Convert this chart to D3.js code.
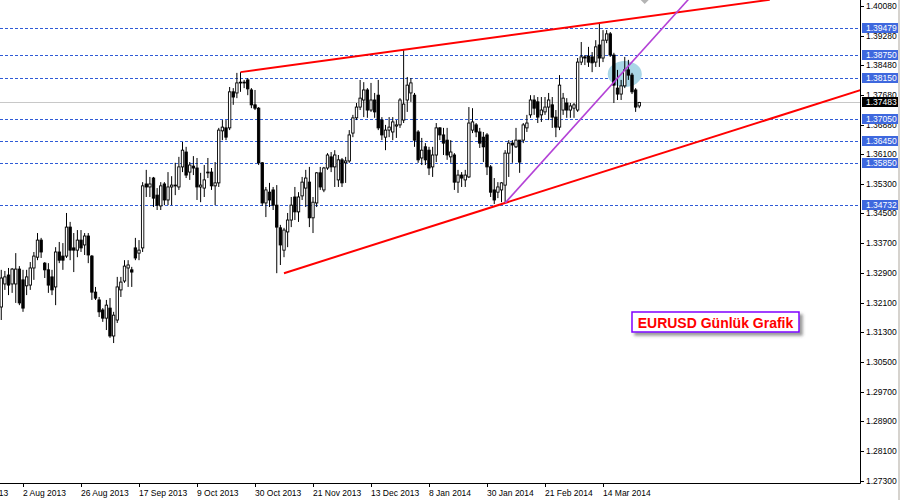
<!DOCTYPE html>
<html>
<head>
<meta charset="utf-8">
<title>EURUSD Günlük Grafik</title>
<script src="https://cdn.jsdelivr.net/npm/d3@7"></script>
<style>
    body { margin: 0; background: #fff; }
    #chart { width: 900px; height: 500px; }
    .axis-text { font-family: "Liberation Sans", Arial, sans-serif; font-size: 8.5px; }
</style>
</head>
<body>
<div id="chart"></div>
<script>
// Daily EURUSD candles (one entry per bar, oldest first)
const opens = [
    1.3198, 1.3260, 1.3284, 1.3260, 1.3260, 1.3300, 1.3271, 1.3255, 1.3257, 1.3303,
    1.3332, 1.3378, 1.3316, 1.3298, 1.3279, 1.3252, 1.3346, 1.3335, 1.3335, 1.3413,
    1.3357, 1.3351, 1.3378, 1.3365, 1.3389, 1.3335, 1.3238, 1.3217, 1.3190, 1.3168,
    1.3195, 1.3120, 1.3163, 1.3244, 1.3268, 1.3303, 1.3298, 1.3357, 1.3343, 1.3357,
    1.3529, 1.3521, 1.3545, 1.3499, 1.3470, 1.3529, 1.3486, 1.3521, 1.3524, 1.3521,
    1.3575, 1.3615, 1.3561, 1.3577, 1.3572, 1.3521, 1.3518, 1.3561, 1.3561, 1.3524,
    1.3532, 1.3672, 1.3680, 1.3680, 1.3777, 1.3774, 1.3801, 1.3803, 1.3809, 1.3782,
    1.3742, 1.3733, 1.3586, 1.3478, 1.3507, 1.3513, 1.3472, 1.3411, 1.3351, 1.3400,
    1.3432, 1.3494, 1.3454, 1.3497, 1.3518, 1.3534, 1.3438, 1.3478, 1.3559, 1.3513,
    1.3572, 1.3602, 1.3575, 1.3540, 1.3594, 1.3586, 1.3591, 1.3666, 1.3707, 1.3736,
    1.3755, 1.3782, 1.3728, 1.3755, 1.3768, 1.3701, 1.3655, 1.3674, 1.3669, 1.3685,
    1.3688, 1.3701, 1.3755, 1.3774, 1.3768, 1.3669, 1.3599, 1.3629, 1.3620, 1.3575,
    1.3607, 1.3680, 1.3661, 1.3647, 1.3602, 1.3607, 1.3534, 1.3553, 1.3540, 1.3548,
    1.3674, 1.3688, 1.3669, 1.3655, 1.3661, 1.3575, 1.3513, 1.3507, 1.3513, 1.3526,
    1.3612, 1.3639, 1.3629, 1.3647, 1.3647, 1.3680, 1.3715, 1.3755, 1.3750, 1.3715,
    1.3723, 1.3736, 1.3742, 1.3709, 1.3682, 1.3728, 1.3747, 1.3728, 1.3733, 1.3728,
    1.3857, 1.3871, 1.3873, 1.3871, 1.3857, 1.3903, 1.3868, 1.3916, 1.3933, 1.3876,
    1.3787, 1.3771, 1.3793, 1.3836, 1.3822, 1.3782, 1.3739
];
const highs = [
    1.3298, 1.3295, 1.3303, 1.3303, 1.3343, 1.3308, 1.3298, 1.3298, 1.3319, 1.3346,
    1.3397, 1.3384, 1.3319, 1.3316, 1.3298, 1.3359, 1.3373, 1.3370, 1.3451, 1.3427,
    1.3397, 1.3405, 1.3405, 1.3397, 1.3397, 1.3338, 1.3252, 1.3225, 1.3195, 1.3217,
    1.3222, 1.3185, 1.3279, 1.3279, 1.3324, 1.3324, 1.3306, 1.3384, 1.3378, 1.3534,
    1.3567, 1.3548, 1.3548, 1.3518, 1.3534, 1.3534, 1.3561, 1.3550, 1.3586, 1.3602,
    1.3642, 1.3629, 1.3588, 1.3604, 1.3599, 1.3559, 1.3580, 1.3599, 1.3572, 1.3588,
    1.3680, 1.3701, 1.3701, 1.3790, 1.3787, 1.3828, 1.3830, 1.3809, 1.3814, 1.3787,
    1.3782, 1.3736, 1.3588, 1.3521, 1.3532, 1.3521, 1.3526, 1.3419, 1.3411, 1.3451,
    1.3494, 1.3521, 1.3507, 1.3548, 1.3567, 1.3575, 1.3494, 1.3561, 1.3575, 1.3575,
    1.3612, 1.3615, 1.3620, 1.3607, 1.3599, 1.3602, 1.3674, 1.3715, 1.3747, 1.3809,
    1.3803, 1.3787, 1.3801, 1.3774, 1.3809, 1.3709, 1.3688, 1.3709, 1.3709, 1.3701,
    1.3760, 1.3892, 1.3817, 1.3814, 1.3774, 1.3674, 1.3653, 1.3639, 1.3629, 1.3629,
    1.3693, 1.3682, 1.3680, 1.3680, 1.3647, 1.3612, 1.3567, 1.3561, 1.3567, 1.3736,
    1.3733, 1.3693, 1.3680, 1.3669, 1.3666, 1.3580, 1.3545, 1.3534, 1.3534, 1.3620,
    1.3647, 1.3647, 1.3680, 1.3647, 1.3693, 1.3715, 1.3768, 1.3768, 1.3763, 1.3763,
    1.3763, 1.3774, 1.3763, 1.3728, 1.3822, 1.3774, 1.3760, 1.3747, 1.3747, 1.3868,
    1.3911, 1.3876, 1.3898, 1.3884, 1.3916, 1.3962, 1.3943, 1.3943, 1.3938, 1.3882,
    1.3836, 1.3809, 1.3871, 1.3863, 1.3828, 1.3787, 1.3750
];
const lows = [
    1.3163, 1.3244, 1.3230, 1.3236, 1.3209, 1.3203, 1.3185, 1.3230, 1.3244, 1.3271,
    1.3324, 1.3330, 1.3276, 1.3236, 1.3230, 1.3203, 1.3316, 1.3298, 1.3330, 1.3324,
    1.3292, 1.3332, 1.3346, 1.3338, 1.3316, 1.3217, 1.3217, 1.3171, 1.3158, 1.3136,
    1.3115, 1.3101, 1.3155, 1.3225, 1.3263, 1.3252, 1.3252, 1.3324, 1.3324, 1.3346,
    1.3494, 1.3494, 1.3467, 1.3459, 1.3459, 1.3472, 1.3472, 1.3472, 1.3499, 1.3513,
    1.3561, 1.3545, 1.3540, 1.3553, 1.3486, 1.3480, 1.3494, 1.3545, 1.3513, 1.3472,
    1.3521, 1.3647, 1.3647, 1.3674, 1.3742, 1.3760, 1.3777, 1.3787, 1.3768, 1.3733,
    1.3728, 1.3580, 1.3470, 1.3440, 1.3467, 1.3459, 1.3289, 1.3311, 1.3332, 1.3359,
    1.3413, 1.3432, 1.3427, 1.3486, 1.3467, 1.3413, 1.3397, 1.3467, 1.3513, 1.3507,
    1.3567, 1.3561, 1.3521, 1.3521, 1.3521, 1.3532, 1.3586, 1.3655, 1.3701, 1.3728,
    1.3709, 1.3707, 1.3723, 1.3707, 1.3674, 1.3647, 1.3620, 1.3655, 1.3647, 1.3653,
    1.3680, 1.3693, 1.3723, 1.3750, 1.3629, 1.3586, 1.3580, 1.3580, 1.3553, 1.3548,
    1.3588, 1.3647, 1.3607, 1.3594, 1.3586, 1.3513, 1.3505, 1.3521, 1.3521, 1.3545,
    1.3666, 1.3655, 1.3626, 1.3588, 1.3553, 1.3494, 1.3475, 1.3491, 1.3480, 1.3478,
    1.3548, 1.3586, 1.3626, 1.3559, 1.3639, 1.3669, 1.3707, 1.3715, 1.3693, 1.3696,
    1.3715, 1.3701, 1.3680, 1.3655, 1.3674, 1.3715, 1.3707, 1.3707, 1.3707, 1.3723,
    1.3849, 1.3849, 1.3844, 1.3830, 1.3844, 1.3844, 1.3857, 1.3908, 1.3871, 1.3747,
    1.3755, 1.3755, 1.3787, 1.3809, 1.3771, 1.3723, 1.3733
];
const closes = [
    1.3276, 1.3279, 1.3257, 1.3300, 1.3300, 1.3209, 1.3195, 1.3279, 1.3303, 1.3335,
    1.3378, 1.3346, 1.3298, 1.3257, 1.3244, 1.3346, 1.3324, 1.3324, 1.3413, 1.3351,
    1.3351, 1.3378, 1.3357, 1.3389, 1.3338, 1.3238, 1.3222, 1.3185, 1.3168, 1.3203,
    1.3120, 1.3176, 1.3252, 1.3265, 1.3308, 1.3311, 1.3292, 1.3330, 1.3351, 1.3524,
    1.3521, 1.3529, 1.3491, 1.3472, 1.3524, 1.3486, 1.3521, 1.3526, 1.3526, 1.3575,
    1.3620, 1.3553, 1.3580, 1.3572, 1.3521, 1.3526, 1.3540, 1.3559, 1.3524, 1.3532,
    1.3674, 1.3682, 1.3655, 1.3777, 1.3763, 1.3801, 1.3803, 1.3801, 1.3785, 1.3742,
    1.3733, 1.3586, 1.3478, 1.3513, 1.3486, 1.3472, 1.3413, 1.3365, 1.3405, 1.3432,
    1.3472, 1.3454, 1.3494, 1.3534, 1.3545, 1.3438, 1.3480, 1.3559, 1.3521, 1.3572,
    1.3607, 1.3575, 1.3607, 1.3594, 1.3532, 1.3591, 1.3661, 1.3707, 1.3736, 1.3760,
    1.3782, 1.3728, 1.3755, 1.3723, 1.3680, 1.3661, 1.3674, 1.3682, 1.3696, 1.3688,
    1.3755, 1.3744, 1.3795, 1.3801, 1.3647, 1.3594, 1.3620, 1.3594, 1.3572, 1.3607,
    1.3680, 1.3661, 1.3639, 1.3607, 1.3615, 1.3534, 1.3553, 1.3545, 1.3553, 1.3693,
    1.3696, 1.3669, 1.3639, 1.3629, 1.3575, 1.3507, 1.3486, 1.3521, 1.3532, 1.3612,
    1.3639, 1.3634, 1.3647, 1.3588, 1.3688, 1.3693, 1.3755, 1.3733, 1.3709, 1.3728,
    1.3736, 1.3755, 1.3709, 1.3682, 1.3795, 1.3760, 1.3728, 1.3739, 1.3742, 1.3857,
    1.3871, 1.3868, 1.3857, 1.3855, 1.3898, 1.3868, 1.3916, 1.3933, 1.3876, 1.3795,
    1.3771, 1.3793, 1.3836, 1.3822, 1.3777, 1.3736, 1.37483
];

// Time axis labels and the bar each one sits on
const dateLabels = ["11 Jul 2013", "2 Aug 2013", "26 Aug 2013", "17 Sep 2013", "9 Oct 2013",
    "30 Oct 2013", "21 Nov 2013", "13 Dec 2013", "8 Jan 2014", "30 Jan 2014",
    "21 Feb 2014", "14 Mar 2014"];
const dateBars = [-10, 6, 22, 38, 54, 70, 86, 102, 118, 134, 150, 166];

// Price scale labels on the right
const priceTicks = [1.40080, 1.39280, 1.38480, 1.37680, 1.36880, 1.36100, 1.35300, 1.34500,
    1.33700, 1.32900, 1.32100, 1.31300, 1.30500, 1.29700, 1.28900, 1.28100, 1.27300];

// Horizontal support / resistance levels and the current bid
const levelPrices = [1.39479, 1.38750, 1.38150, 1.37050, 1.36450, 1.35850, 1.34732];
const lastPrice = 1.37483;

// Trend lines: [bar, price] anchors plus the bar the line is extended to
const upperChannel = [[66, 1.3830], [111, 1.3890], 212];
const lowerChannel = [[78, 1.3289], [139, 1.3478], 240];
const purpleTrend = [[139, 1.3478], [169, 1.3803], 200];

// Highlight ellipse: centre [bar, price], radius in bars and in price
const ellipseCentre = [172, 1.3825];
const ellipseRadius = [4.7, 0.0035];

const chartTitle = "EURUSD Günlük Grafik";

function createVisualization() {
    const width = 900;
    const height = 500;
    const plotRight = 860;
    const plotBottom = 483;

    const svg = d3.select('#chart')
        .append('svg')
        .attr('width', width)
        .attr('height', height)
        .style('display', 'block');

    // bars are 3.625px apart, first bar just inside the left edge
    const x = d3.scaleLinear().domain([0, 1]).range([1.25, 4.875]);
    const y = d3.scaleLinear().domain([1.27244, 1.40241]).range([plotBottom, 0]);

    const defs = svg.append('defs');
    defs.append('clipPath').attr('id', 'plot-clip')
        .append('rect').attr('x', 0).attr('y', 0)
        .attr('width', plotRight).attr('height', plotBottom);

    const shadow = defs.append('filter').attr('id', 'box-shadow')
        .attr('x', '-10%').attr('y', '-30%').attr('width', '130%').attr('height', '190%');
    shadow.append('feDropShadow')
        .attr('dx', 3).attr('dy', 3).attr('stdDeviation', 1.5)
        .attr('flood-color', '#555').attr('flood-opacity', 0.6);

    const plot = svg.append('g').attr('clip-path', 'url(#plot-clip)');

    // dashed level lines
    plot.selectAll('line.level')
        .data(levelPrices)
        .join('line')
        .attr('class', 'level')
        .attr('x1', 0).attr('x2', plotRight)
        .attr('y1', d => Math.round(y(d)) + 0.5)
        .attr('y2', d => Math.round(y(d)) + 0.5)
        .attr('stroke', '#2f5bd6')
        .attr('stroke-dasharray', '3,2');

    // bid line
    plot.append('line')
        .attr('x1', 0).attr('x2', plotRight)
        .attr('y1', Math.round(y(lastPrice)) + 0.5)
        .attr('y2', Math.round(y(lastPrice)) + 0.5)
        .attr('stroke', '#c8c8c8');

    // highlight ellipse behind the candles
    plot.append('ellipse')
        .attr('cx', x(ellipseCentre[0]))
        .attr('cy', y(ellipseCentre[1]))
        .attr('rx', x(ellipseRadius[0]) - x(0))
        .attr('ry', y(ellipseCentre[1] - ellipseRadius[1]) - y(ellipseCentre[1]))
        .attr('fill', '#a9d6e6');

    // candles
    const bars = d3.range(opens.length);
    plot.append('g')
        .selectAll('line')
        .data(bars)
        .join('line')
        .attr('x1', i => x(i)).attr('x2', i => x(i))
        .attr('y1', i => y(highs[i]))
        .attr('y2', i => y(lows[i]))
        .attr('stroke', '#000')
        .attr('stroke-width', 1);

    plot.append('g')
        .selectAll('rect')
        .data(bars)
        .join('rect')
        .attr('x', i => x(i) - 1.2)
        .attr('width', 2.4)
        .attr('y', i => y(Math.max(opens[i], closes[i])))
        .attr('height', i => Math.max(0.8, Math.abs(y(opens[i]) - y(closes[i]))))
        .attr('fill', i => closes[i] >= opens[i] ? '#fff' : '#000')
        .attr('stroke', '#000')
        .attr('stroke-width', 0.9);

    // trend lines
    function drawTrend(t, colour, w) {
        const [p1, p2, endBar] = t;
        const slope = (p2[1] - p1[1]) / (p2[0] - p1[0]);
        plot.append('line')
            .attr('x1', x(p1[0])).attr('y1', y(p1[1]))
            .attr('x2', x(endBar)).attr('y2', y(p1[1] + slope * (endBar - p1[0])))
            .attr('stroke', colour)
            .attr('stroke-width', w);
    }
    drawTrend(upperChannel, '#ff0000', 2);
    drawTrend(lowerChannel, '#ff0000', 2);
    drawTrend(purpleTrend, '#b342d6', 1.6);

    // little grey shift marker at the top
    const shiftX = x(opens.length + 0.5);
    svg.append('path')
        .attr('d', `M${shiftX - 4},0 L${shiftX + 4},0 L${shiftX},4 Z`)
        .attr('fill', '#b4b4b4');

    // frame
    svg.append('line')
        .attr('x1', plotRight + 0.5).attr('x2', plotRight + 0.5)
        .attr('y1', 0).attr('y2', plotBottom + 0.5)
        .attr('stroke', '#000');
    svg.append('line')
        .attr('x1', 0).attr('x2', plotRight + 0.5)
        .attr('y1', plotBottom + 0.5).attr('y2', plotBottom + 0.5)
        .attr('stroke', '#000');
    svg.append('rect')
        .attr('x', 898).attr('y', 0).attr('width', 2).attr('height', height)
        .attr('fill', '#d6d3ce');

    // price axis
    const priceAxis = svg.append('g').attr('class', 'axis-text');
    priceAxis.selectAll('line')
        .data(priceTicks)
        .join('line')
        .attr('x1', plotRight).attr('x2', plotRight + 4)
        .attr('y1', d => Math.round(y(d)) + 0.5)
        .attr('y2', d => Math.round(y(d)) + 0.5)
        .attr('stroke', '#000');
    priceAxis.selectAll('text')
        .data(priceTicks)
        .join('text')
        .attr('x', plotRight + 6)
        .attr('y', d => y(d))
        .attr('dy', '0.35em')
        .text(d => d.toFixed(5));

    // level tags drawn over the scale
    const tags = svg.append('g').attr('class', 'axis-text');
    const tagData = levelPrices.map(p => ({ price: p, fill: '#3e68de' }))
        .concat([{ price: lastPrice, fill: '#000' }]);
    tags.selectAll('rect')
        .data(tagData)
        .join('rect')
        .attr('x', plotRight + 2)
        .attr('y', d => Math.round(y(d.price)) - 5)
        .attr('width', 36)
        .attr('height', 10)
        .attr('fill', d => d.fill);
    tags.selectAll('text')
        .data(tagData)
        .join('text')
        .attr('x', plotRight + 6)
        .attr('y', d => Math.round(y(d.price)) + 0.5)
        .attr('dy', '0.35em')
        .attr('fill', '#fff')
        .text(d => d.price.toFixed(5));

    // time axis
    const timeAxis = svg.append('g').attr('class', 'axis-text');
    timeAxis.selectAll('line')
        .data(dateBars)
        .join('line')
        .attr('x1', d => Math.round(x(d)) + 0.5)
        .attr('x2', d => Math.round(x(d)) + 0.5)
        .attr('y1', plotBottom).attr('y2', plotBottom + 4)
        .attr('stroke', '#000');
    timeAxis.selectAll('text')
        .data(dateLabels)
        .join('text')
        .attr('x', (d, i) => Math.round(x(dateBars[i])))
        .attr('y', 496)
        .text(d => d);

    // title box
    const boxX = 632, boxY = 312, boxW = 167, boxH = 20;
    svg.append('rect')
        .attr('x', boxX).attr('y', boxY)
        .attr('width', boxW).attr('height', boxH)
        .attr('fill', '#fff')
        .attr('stroke', '#7f00ff')
        .attr('stroke-width', 1.5)
        .attr('filter', 'url(#box-shadow)');
    svg.append('text')
        .attr('x', boxX + boxW / 2)
        .attr('y', boxY + 16)
        .attr('text-anchor', 'middle')
        .attr('fill', '#ff0000')
        .style('font-family', '"Liberation Sans", Arial, sans-serif')
        .style('font-weight', 'bold')
        .style('font-size', '14px')
        .text(chartTitle);
}

createVisualization();
</script>
</body>
</html>
